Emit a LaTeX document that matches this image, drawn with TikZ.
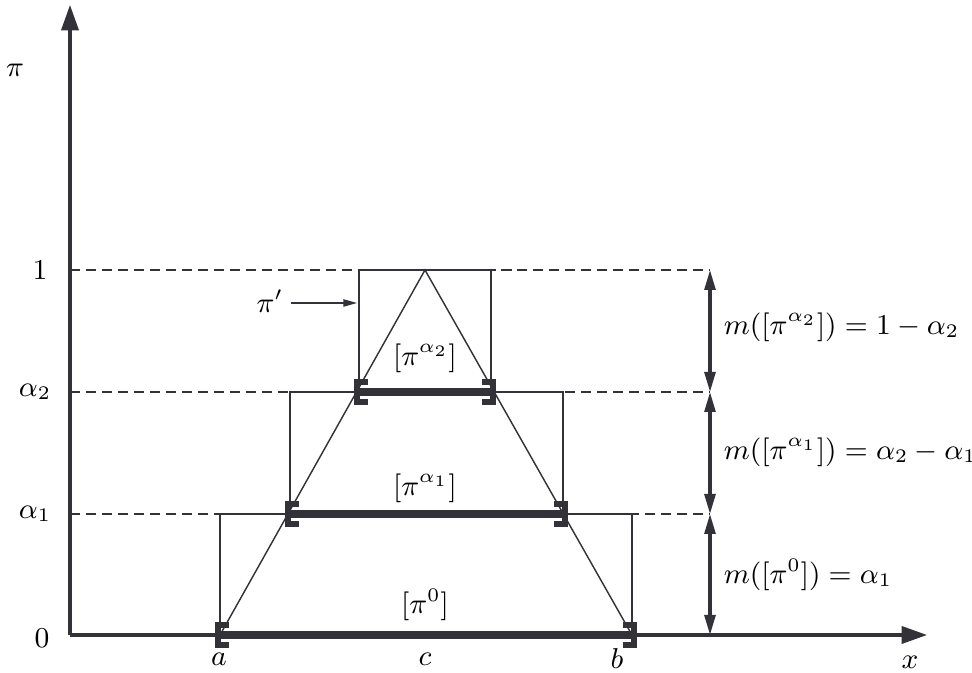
\documentclass[tikz,border=0pt]{standalone}
\usetikzlibrary{arrows.meta}
\definecolor{ink}{RGB}{50,50,56}
\begin{document}
\begin{tikzpicture}[x=0.011cm,y=-0.011cm,
  axisline/.style={draw=ink,line width=0.95pt,-{Triangle[length=0.28cm,width=0.19cm]}},
  dashline/.style={draw=ink,line width=0.6pt,dash pattern=on 3.2pt off 1.8pt},
  thinline/.style={draw=ink,line width=0.45pt},
  boxline/.style={draw=ink,line width=0.55pt},
  measure/.style={draw=ink,line width=0.95pt,{Triangle[length=0.22cm,width=0.12cm]}-{Triangle[length=0.22cm,width=0.12cm]}},
  barline/.style={draw=ink,line width=2.4pt},
  brk/.style={draw=ink,line width=1.6pt},
  lbl/.style={inner sep=1pt,font=\fontsize{9.2pt}{11pt}\selectfont}]
\useasboundingbox (0,0) rectangle (972,673);
% key points
\coordinate (O) at (70,635);
\coordinate (Ytop) at (70,5);
\coordinate (Xend) at (927,635);
\coordinate (A) at (220,635);
\coordinate (B) at (632,635);
\coordinate (L1) at (290,514);
\coordinate (R1) at (563,514);
\coordinate (L2) at (359,392);
\coordinate (R2) at (491,392);
\coordinate (P) at (425,270);
\coordinate (TL) at (359,270);
\coordinate (TR) at (491,270);
\coordinate (A1) at (220,514);
\coordinate (B1) at (632,514);
\coordinate (L1t) at (290,392);
\coordinate (R1t) at (563,392);
\coordinate (D0) at (70,270);
\coordinate (D1) at (70,392);
\coordinate (D2) at (70,514);
\coordinate (E0) at (710,270);
\coordinate (E1) at (710,392);
\coordinate (E2) at (710,514);
\coordinate (E3) at (710,635);
% dashed levels
\draw[dashline] (D0) -- (E0);
\draw[dashline] (D1) -- (E1);
\draw[dashline] (D2) -- (E2);
% boxes
\draw[boxline] (A) -- (A1) -- (B1) -- (B);
\draw[boxline] (L1) -- (L1t) -- (R1t) -- (R1);
\draw[boxline] (L2) -- (TL) -- (TR) -- (R2);
% triangle
\draw[thinline] (A) -- (P) -- (B);
% axes
\draw[axisline] (O) -- (Ytop);
\draw[axisline] (O) -- (Xend);
% intervals
\draw[barline] (A) -- (B);
\draw[barline] (L1) -- (R1);
\draw[barline] (L2) -- (R2);
\foreach \p in {A,L1,L2}{
  \draw[brk] (\p) ++(9,-10) -- ++(-11,0) -- ++(0,20) -- ++(11,0);
}
\foreach \p in {B,R1,R2}{
  \draw[brk] (\p) ++(-9,-10) -- ++(11,0) -- ++(0,20) -- ++(-11,0);
}
% measure arrows
\draw[measure] (E0) -- (E1);
\draw[measure] (E1) -- (E2);
\draw[measure] (E2) -- (E3);
% labels
\node[lbl] (lpi) at (15,70) {$\pi$};
\node[lbl] (l1) at (40,270) {$1$};
\node[lbl] (la2) at (35,392) {$\alpha_2$};
\node[lbl] (la1) at (35,514) {$\alpha_1$};
\node[lbl] (l0) at (42,638) {$0$};
\node[lbl] (la) at (219,659) {$a$};
\node[lbl] (lc) at (425,659) {$c$};
\node[lbl] (lb) at (617,659) {$b$};
\node[lbl] (lx) at (910,662) {$x$};
\node[lbl] (i0) at (425,605) {$[\pi^0]$};
\node[lbl] (i1) at (425,488) {$[\pi^{\alpha_1}]$};
\node[lbl] (i2) at (425,358) {$[\pi^{\alpha_2}]$};
\node[lbl] (m2) at (720,327) [anchor=west] {$m([\pi^{\alpha_2}])=1-\alpha_2$};
\node[lbl] (m1) at (720,452) [anchor=west] {$m([\pi^{\alpha_1}])=\alpha_2-\alpha_1$};
\node[lbl] (m0) at (720,575) [anchor=west] {$m([\pi^{0}])=\alpha_1$};
\node[lbl] (pp) at (270,301) {$\pi'$};
\coordinate (ppe) at (357,303);
\draw[thinline,-{Triangle[length=0.15cm,width=0.08cm]}] (pp.east) ++(4,2) -- (ppe);
\end{tikzpicture}
\end{document}
